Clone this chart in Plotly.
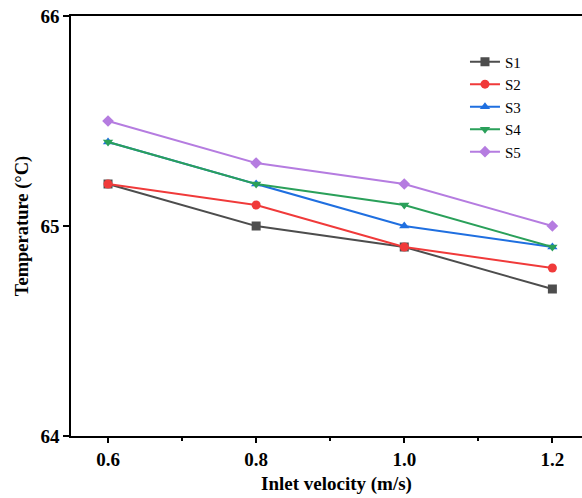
import plotly.graph_objects as go

velocity = [0.6, 0.8, 1.0, 1.2]
s1 = [65.2, 65.0, 64.9, 64.7]
s2 = [65.2, 65.1, 64.9, 64.8]
s3 = [65.4, 65.2, 65.0, 64.9]
s4 = [65.4, 65.2, 65.1, 64.9]
s5 = [65.5, 65.3, 65.2, 65.0]
names = ["S1", "S2", "S3", "S4", "S5"]
series = [s1, s2, s3, s4, s5]
colors = ["#4d4d4d", "#f03a3a", "#1f6fe0", "#2aa05a", "#b57ce0"]
symbols = ["square", "circle", "triangle-up", "triangle-down", "diamond"]

font = "Liberation Serif, Times New Roman, serif"
fig = go.Figure()
for n, s, c, m in zip(names, series, colors, symbols):
    fig.add_trace(go.Scatter(x=velocity, y=s, name=n, mode="lines+markers",
                             line=dict(color=c, width=2),
                             marker=dict(symbol=m, size=9, color=c)))

fig.update_layout(
    width=582, height=498,
    margin=dict(l=71, r=0, t=16, b=62),
    plot_bgcolor="white", paper_bgcolor="white",
    font=dict(family=font, color="black"),
    showlegend=True,
    legend=dict(x=0.771, y=0.930, xanchor="left", yanchor="top",
                font=dict(family=font, size=15, color="black"),
                bgcolor="rgba(0,0,0,0)", tracegroupgap=0, itemwidth=30),
    xaxis=dict(range=[0.55, 1.24], tickvals=[0.6, 0.8, 1.0, 1.2],
               ticktext=["0.6", "0.8", "1.0", "1.2"], automargin=False,
               showgrid=False, zeroline=False,
               showline=True, linecolor="black", linewidth=1.5, mirror=True,
               ticks="outside", ticklen=5, tickwidth=1.5, tickcolor="black",
               ticklabeloverflow="allow",
               minor=dict(tickvals=[0.7, 0.9, 1.1], ticks="outside", ticklen=3,
                          tickwidth=1.5, tickcolor="black"),
               tickfont=dict(family=font, size=19, color="black", weight="bold")),
    yaxis=dict(range=[64, 66], tickvals=[64, 65, 66], automargin=False,
               showgrid=False, zeroline=False,
               showline=True, linecolor="black", linewidth=1.5, mirror=False,
               ticks="outside", ticklen=6, tickwidth=1.5, tickcolor="black",
               ticklabeloverflow="allow",
               tickfont=dict(family=font, size=19, color="black", weight="bold"),
               title=dict(text="<b>Temperature (°C)</b>", standoff=7,
                          font=dict(family=font, size=18.5, color="black"))),
    annotations=[dict(text="<b>Inlet velocity (m/s)</b>", xref="paper", yref="paper",
                      x=0.519, y=-0.114, xanchor="center", yanchor="middle",
                      showarrow=False, font=dict(family=font, size=19, color="black"))],
)

fig.write_html("out.html", config={"displayModeBar": False},
               post_script="document.body.style.margin='0';")
